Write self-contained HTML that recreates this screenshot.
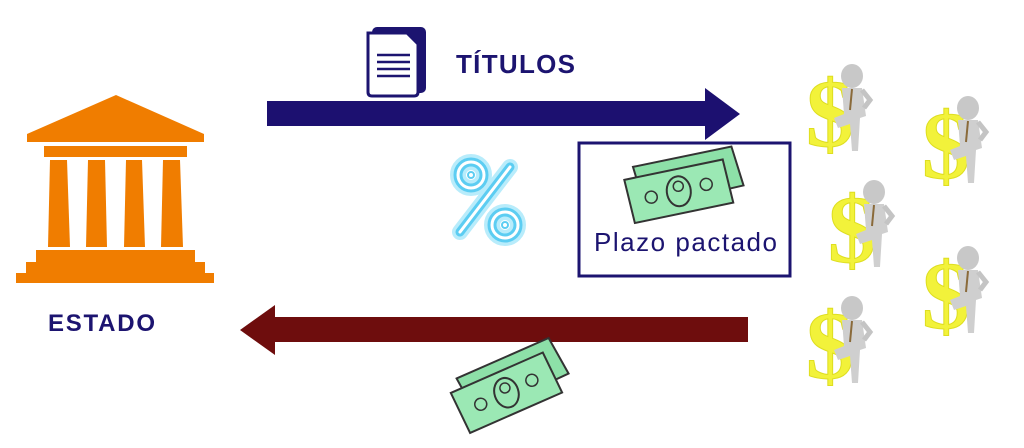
<!DOCTYPE html>
<html><head><meta charset="utf-8"><style>html,body{margin:0;padding:0;background:#fff;}svg{display:block}</style></head>
<body>
<svg width="1024" height="448" viewBox="0 0 1024 448" xmlns="http://www.w3.org/2000/svg">
<defs>
<g id="inv">
  <text x="0" y="80" font-family="Liberation Serif, serif" font-weight="bold" font-size="96" fill="#f2f23a" stroke="#dede20" stroke-width="1">$</text>
  <ellipse cx="46" cy="10" rx="11" ry="12" fill="#c8c8c8"/>
  <path d="M36 22 L56 22 L60 50 L54 52 L52 85 L46 85 L44 58 L32 62 L28 52 L38 48 Z" fill="#cfcfcf"/>
  <path d="M56 24 L64 34 L58 42" fill="none" stroke="#c4c4c4" stroke-width="5"/>
  <line x1="46" y1="23" x2="44" y2="44" stroke="#8a6a3a" stroke-width="2"/>
</g>
<g id="money">
  <path d="M10 10 L110 0 L118 40 L18 52 Z" fill="#8de0a8" stroke="#333" stroke-width="2"/>
  <path d="M0 22 L100 12 L106 56 L6 66 Z" fill="#9be8b4" stroke="#333" stroke-width="2"/>
  <ellipse cx="53" cy="39" rx="12" ry="15" fill="none" stroke="#333" stroke-width="2"/>
  <circle cx="53" cy="34" r="5" fill="none" stroke="#333" stroke-width="1.5"/>
  <circle cx="25" cy="42" r="6" fill="none" stroke="#333" stroke-width="1.5"/>
  <circle cx="81" cy="35" r="6" fill="none" stroke="#333" stroke-width="1.5"/>
</g>
</defs>

<!-- building -->
<g fill="#f07d00">
  <polygon points="116,95 204,134 204,142 27,142 27,134"/>
  <rect x="44" y="146" width="143" height="11"/>
  <polygon points="50,160 67,160 70,247 48,247"/>
  <polygon points="88,160 105,160 107,247 86,247"/>
  <polygon points="126,160 142,160 145,247 124,247"/>
  <polygon points="163,160 180,160 183,247 161,247"/>
  <rect x="36" y="250" width="159" height="12"/>
  <rect x="26" y="262" width="179" height="11"/>
  <rect x="16" y="273" width="198" height="10"/>
</g>
<text x="48" y="331" font-family="Liberation Sans, sans-serif" font-weight="bold" font-size="24" fill="#1c1470" textLength="107">ESTADO</text>

<!-- doc icon -->
<rect x="372" y="27" width="54" height="66" rx="5" fill="#1c1470"/>
<path d="M368 33 L407 33 L418 44 L418 92 Q418 96 414 96 L372 96 Q368 96 368 92 Z" fill="#fff" stroke="#1c1470" stroke-width="3"/>
<g stroke="#1c1470" stroke-width="2.5"><line x1="377" y1="55" x2="410" y2="55"/><line x1="377" y1="62" x2="410" y2="62"/><line x1="377" y1="69" x2="410" y2="69"/><line x1="377" y1="76" x2="410" y2="76"/></g>
<text x="456" y="73" font-family="Liberation Sans, sans-serif" font-weight="bold" font-size="26" fill="#1c1470" textLength="119">TÍTULOS</text>

<!-- top arrow -->
<polygon points="267,101 705,101 705,88 740,114 705,140 705,126 267,126" fill="#1c1070"/>
<!-- bottom arrow -->
<polygon points="748,317 275,317 275,305 240,330 275,355 275,342 748,342" fill="#6e0d0d"/>

<!-- percent -->
<g stroke="#b8ecfb" fill="none" stroke-width="16" stroke-linecap="round">
  <line x1="510" y1="167" x2="460" y2="232"/><circle cx="471" cy="175" r="13"/><circle cx="505" cy="225" r="13"/>
</g>
<g stroke="#5ccdf2" fill="none" stroke-width="9" stroke-linecap="round">
  <line x1="510" y1="167" x2="460" y2="232"/><circle cx="471" cy="175" r="13"/><circle cx="505" cy="225" r="13"/>
</g>
<g stroke="#fff" fill="none" stroke-width="3" stroke-linecap="round">
  <line x1="510" y1="167" x2="460" y2="232"/><circle cx="471" cy="175" r="13"/><circle cx="505" cy="225" r="13"/>
</g>
<g stroke="#5ccdf2" fill="#fff" stroke-width="2"><circle cx="471" cy="175" r="3"/><circle cx="505" cy="225" r="3"/></g>

<!-- box -->
<rect x="579" y="143" width="211" height="133" fill="none" stroke="#1c1470" stroke-width="3"/>
<use href="#money" transform="translate(622,158) rotate(-6)"/>
<text x="594" y="251" font-family="Liberation Sans, sans-serif" font-size="26" fill="#1c1470" textLength="183">Plazo pactado</text>

<!-- bottom money -->
<use href="#money" transform="translate(444,372) rotate(-18)"/>

<!-- investors -->
<use href="#inv" transform="translate(806,66)"/>
<use href="#inv" transform="translate(922,98)"/>
<use href="#inv" transform="translate(828,182)"/>
<use href="#inv" transform="translate(922,248)"/>
<use href="#inv" transform="translate(806,298)"/>
</svg>
</body></html>
